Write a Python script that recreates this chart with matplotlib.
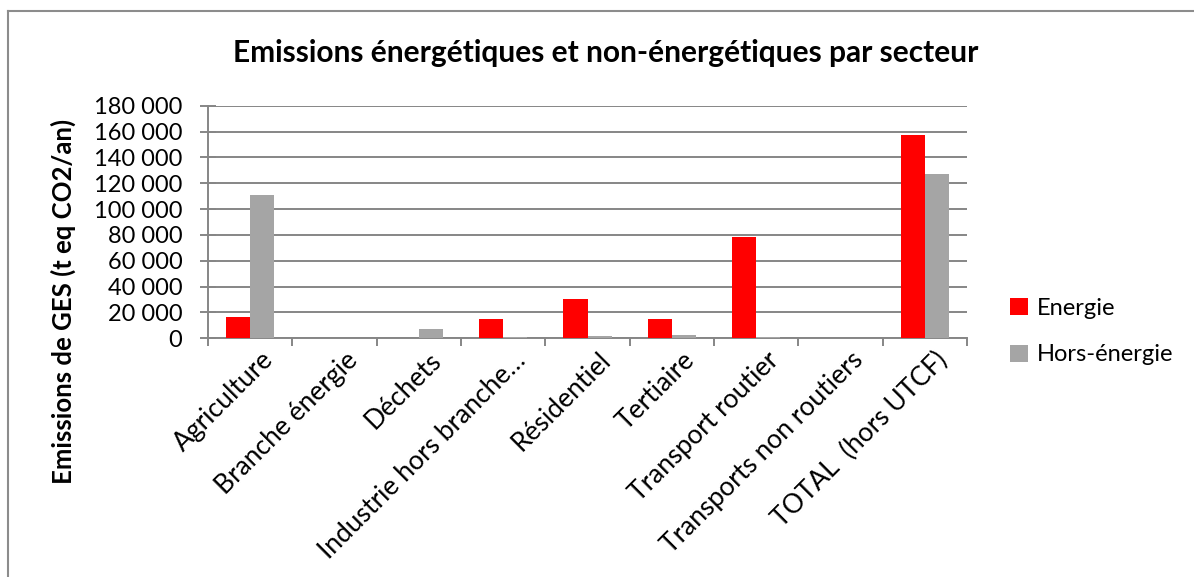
import matplotlib.pyplot as plt
import numpy as np
from matplotlib.lines import Line2D
from matplotlib.ticker import FuncFormatter, MultipleLocator

plt.rcParams['font.family'] = ['Lato', 'DejaVu Sans']

secteurs = ["Agriculture", "Branche énergie", "Déchets", "Industrie hors branche…",
            "Résidentiel", "Tertiaire", "Transport routier", "Transports non routiers",
            "TOTAL  (hors UTCF)"]
energie = [16700, 0, 0, 14900, 30600, 14700, 78500, 0, 157500]
hors_energie = [111000, 0, 7000, 1000, 2000, 2500, 1300, 0, 126900]

fig = plt.figure(figsize=(11.94, 5.77), dpi=100)
ax = fig.add_axes([0.1742, 0.4137, 0.6357, 0.4031])

x = np.arange(len(secteurs))
w = 0.285
ax.bar(x - w / 2, energie, w, color="#ff0000", label="Energie", zorder=3)
ax.bar(x + w / 2, hors_energie, w, color="#a5a5a5", label="Hors-énergie", zorder=3)

grid = "#868686"
ax.set_ylim(0, 180000)
ax.set_xlim(-0.5, len(secteurs) - 0.5)
ax.yaxis.set_major_locator(MultipleLocator(20000))
ax.yaxis.set_major_formatter(FuncFormatter(lambda v, p: f"{int(v):,}".replace(",", " ")))
ax.grid(axis="y", color=grid, linewidth=1.4, zorder=0)
for s in ["top", "right"]:
    ax.spines[s].set_visible(False)
for s in ["left", "bottom"]:
    ax.spines[s].set_color(grid)
    ax.spines[s].set_linewidth(1.4)
ax.tick_params(axis="y", direction="inout", length=11, color=grid, width=1.4,
               labelsize=17, pad=13)

# category ticks sit between the groups
ax.set_xticks(np.arange(len(secteurs) + 1) - 0.5)
ax.set_xticklabels([])
ax.tick_params(axis="x", direction="out", length=6, color=grid, width=1.4)
for i, name in enumerate(secteurs):
    ax.text(i + 0.12, -7000, name, rotation=45, rotation_mode="anchor",
            ha="right", va="top", fontsize=19)

fig.text(0.053, 0.477, "Emissions de GES (t eq CO2/an)", rotation=90,
         ha="center", va="center", fontsize=18.5, fontweight="bold")
fig.text(0.507, 0.908, "Emissions énergétiques et non-énergétiques par secteur",
         ha="center", va="center", fontsize=21.5, fontweight="bold")

fig.legend(loc="center left", bbox_to_anchor=(0.846, 0.4255), frameon=False, fontsize=17,
           borderpad=0, borderaxespad=0, handlelength=0.75, handleheight=0.75,
           handletextpad=0.4, labelspacing=1.1)

# chart area border (top and left edges visible)
fig.add_artist(Line2D([8 / 1194, 8 / 1194], [0, 1 - 11 / 577], color="#8c8c8c", linewidth=1.5))
fig.add_artist(Line2D([8 / 1194, 1], [1 - 11 / 577, 1 - 11 / 577], color="#8c8c8c", linewidth=1.5))

fig.savefig("out.png", dpi=100)
